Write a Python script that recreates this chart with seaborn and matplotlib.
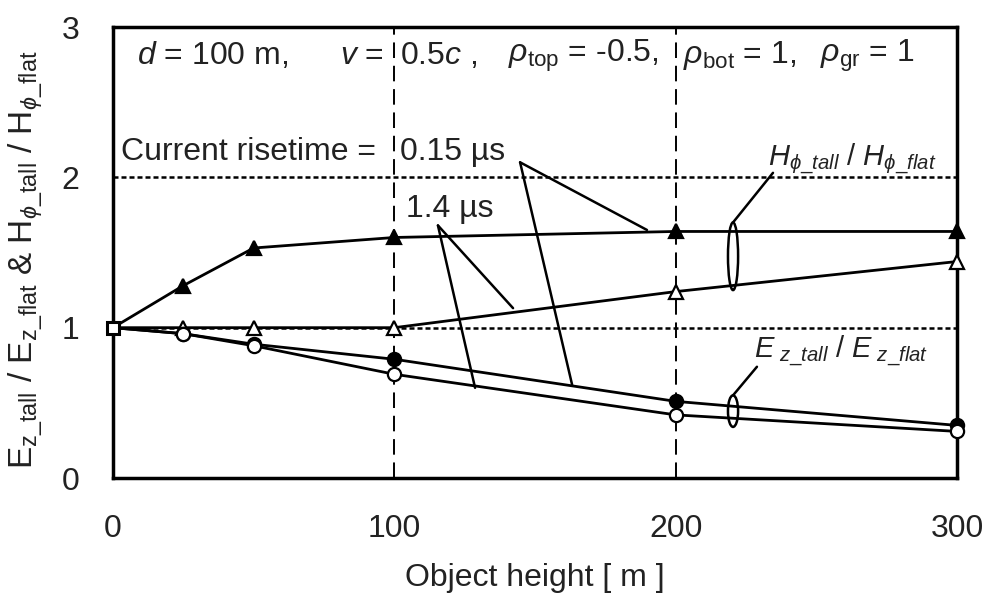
import matplotlib
matplotlib.use("Agg")
import matplotlib.pyplot as plt
from matplotlib.patches import Ellipse
import seaborn as sns
import pandas as pd

# Object height [m]
heights = [0, 25, 50, 100, 200, 300]
# Field ratios (tall object / flat ground)
h_ratio_015 = [1.0, 1.28, 1.53, 1.60, 1.64, 1.64]
h_ratio_14 = [1.0, 1.0, 1.0, 1.0, 1.24, 1.44]
e_ratio_015 = [1.0, 0.96, 0.89, 0.79, 0.51, 0.35]
e_ratio_14 = [1.0, 0.96, 0.88, 0.69, 0.42, 0.31]

x_ticks = [0, 100, 200, 300]
y_ticks = [0, 1, 2, 3]

sns.set_theme(style="white")
plt.rcParams["font.family"] = ["Liberation Sans", "DejaVu Sans"]
plt.rcParams["mathtext.fontset"] = "custom"
plt.rcParams["mathtext.rm"] = "Liberation Sans"
plt.rcParams["mathtext.it"] = "Liberation Sans:italic"
TXT = "#222222"

fig = plt.figure(figsize=(9.82, 6.0), dpi=100)
ax = fig.add_axes([0.1151, 0.2033, 0.8594, 0.7517])

series = [
    ("H 0.15", h_ratio_015, "^", "black"),
    ("H 1.4", h_ratio_14, "^", "white"),
    ("E 0.15", e_ratio_015, "o", "black"),
    ("E 1.4", e_ratio_14, "o", "white"),
]
for name, vals, mk, face in series:
    df = pd.DataFrame({"height": heights, "ratio": vals})
    sns.lineplot(data=df, x="height", y="ratio", ax=ax, color="black",
                 linewidth=2.0, marker=mk, markersize=9.5,
                 markerfacecolor=face, markeredgecolor="black",
                 markeredgewidth=1.6, markevery=list(range(1, len(heights))),
                 zorder=4, clip_on=False)
# common starting point
ax.plot(heights[0], h_ratio_015[0], marker="s", markersize=9,
        markerfacecolor="white", markeredgecolor="black",
        markeredgewidth=2.2, zorder=5, clip_on=False)

# reference lines
for yv in (1, 2):
    ax.axhline(yv, color="black", lw=1.8, ls=(0, (2, 1.2)), zorder=1)
for xv in (100, 200):
    ax.axvline(xv, color="black", lw=1.4, ls=(0, (8, 4)), zorder=1)

ax.set_xlim(0, 300)
ax.set_ylim(0, 3)
ax.set_xticks(x_ticks)
ax.set_yticks(y_ticks)
ax.tick_params(axis="both", length=0, labelsize=23, labelcolor=TXT)
ax.tick_params(axis="x", pad=26)
ax.tick_params(axis="y", pad=24)
for s in ax.spines.values():
    s.set_color("black")
    s.set_linewidth(2.5)

ax.set_xlabel("Object height [ m ]", fontsize=23, color=TXT, va="center")
ax.xaxis.set_label_coords(0.5, -0.222)
ax.set_ylabel(r"E$_{\mathrm{z\_tall}}$ / E$_{\mathrm{z\_flat}}$ & "
              r"H$_{\phi\mathrm{\_tall}}$ / H$_{\phi\mathrm{\_flat}}$",
              fontsize=24, color=TXT, va="center")
ax.yaxis.set_label_coords(-0.104, 0.483)

# parameter line
pk = dict(fontsize=23, va="center", ha="left", color=TXT, zorder=6)
ax.text(8.5, 2.81, r"$d$ = 100 m,", **pk)
ax.text(80.7, 2.81, r"$v$ =", **pk)
ax.text(102, 2.81, r"0.5$c$ ,", **pk)
ax.text(140.4, 2.81, r"$\rho_{\mathrm{top}}$ = -0.5,", **pk)
ax.text(202.6, 2.81, r"$\rho_{\mathrm{bot}}$ = 1,", **pk)
ax.text(251.3, 2.81, r"$\rho_{\mathrm{gr}}$ = 1", **pk)

# risetime labels
tk = dict(fontsize=23, va="center", ha="left", color=TXT, zorder=6)
ax.text(3, 2.17, "Current risetime =", **tk)
ax.text(102, 2.17, "0.15 µs", **tk)
ax.text(104, 1.79, "1.4 µs", **tk)

lb = dict(fontsize=21, va="center", ha="left", color=TXT, zorder=6)
ax.text(233, 2.12, r"$H_{\phi\_tall}$ / $H_{\phi\_flat}$", **lb)
ax.text(228, 0.84, r"$E_{\ z\_tall}$ / $E_{\ z\_flat}$", **lb)

lk = dict(color="black", lw=1.8, zorder=6)
# leaders for 0.15 us
ax.plot([144.7, 189.8], [2.10, 1.65], **lk)
ax.plot([144.7, 163.2], [2.10, 0.62], **lk)
# leaders for 1.4 us
ax.plot([115.5, 142.2], [1.68, 1.13], **lk)
ax.plot([115.5, 128.7], [1.68, 0.60], **lk)
# brackets grouping the curve pairs
ax.add_patch(Ellipse((220.4, 1.475), 3.6, 0.45, fill=False, ec="black", lw=1.8, zorder=6))
ax.plot([220.4, 234.6], [1.70, 2.03], **lk)
ax.add_patch(Ellipse((220.4, 0.445), 3.6, 0.21, fill=False, ec="black", lw=1.8, zorder=6))
ax.plot([220.4, 228.9], [0.55, 0.74], **lk)

fig.savefig("out.png", dpi=100, facecolor="white")
